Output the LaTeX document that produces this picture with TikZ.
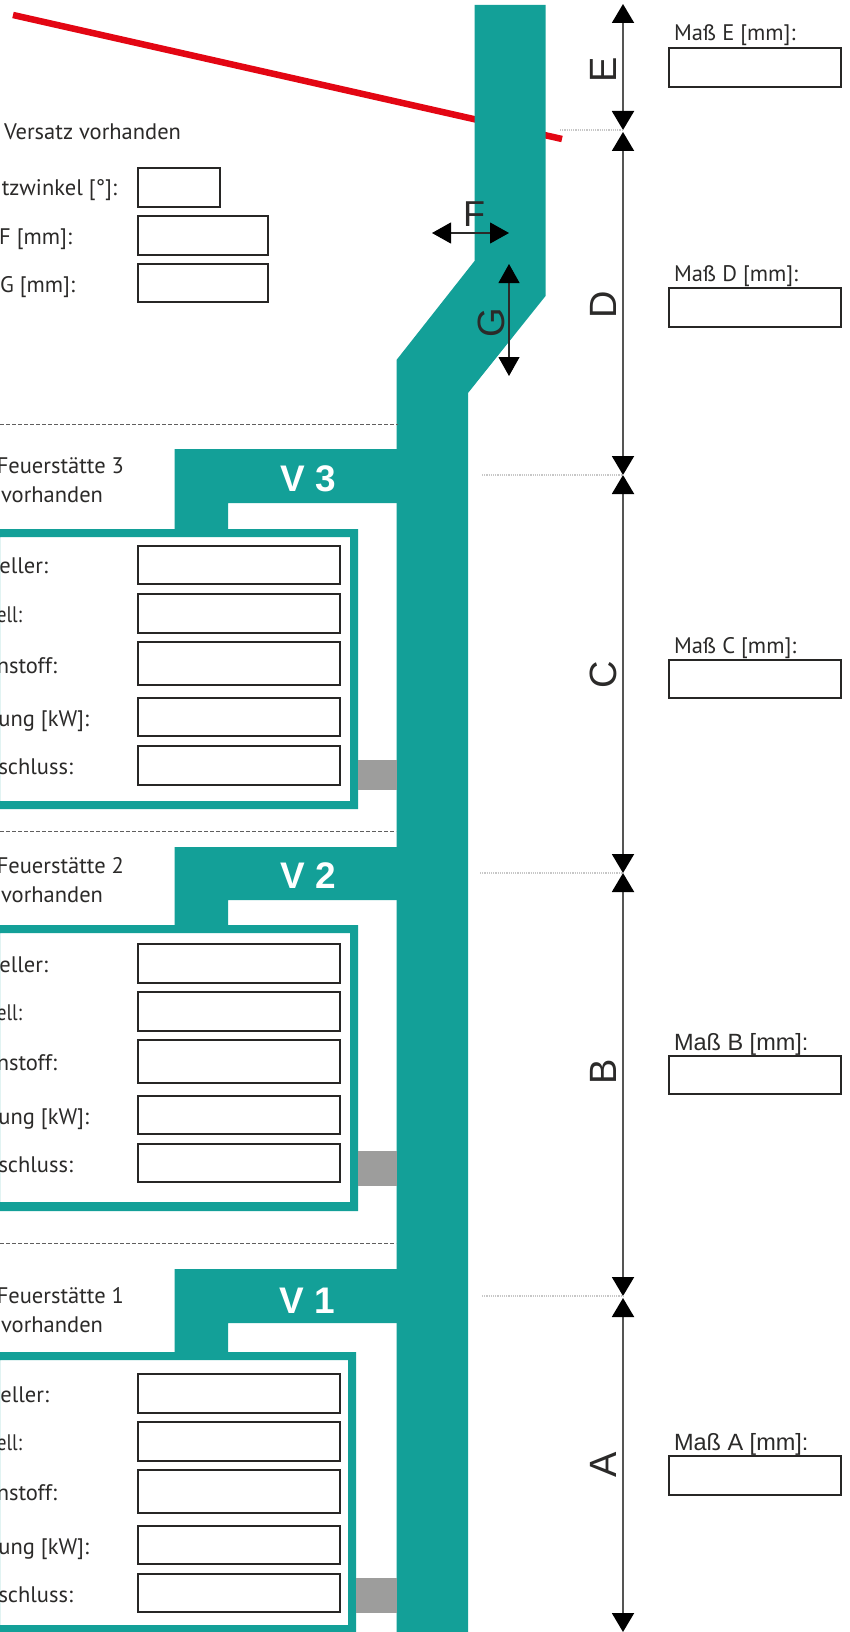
\documentclass[tikz,border=0pt]{standalone}
\usepackage{fontspec}
\setmainfont{PT Sans}
\newfontfamily\arialf{Liberation Sans}
\usetikzlibrary{arrows.meta}
\definecolor{teal1}{HTML}{13A098}
\definecolor{gray1}{HTML}{9D9D9C}
\definecolor{red1}{HTML}{E30613}
\definecolor{ink}{HTML}{2B2A29}
\tikzset{
  lbl/.style={inner sep=0pt,outer sep=0pt,text=ink,font=\fontsize{22.5}{27}\selectfont},
  lblr/.style={lbl,anchor=base east},
  lbll/.style={lbl,anchor=base west},
  arlbl/.style={inner sep=0pt,outer sep=0pt,anchor=base west,text=ink,font=\arialf\fontsize{23.5}{27}\selectfont},
  inbox/.style={draw=ink!90!black,line width=1.8pt,fill=white,inner sep=0pt,outer sep=0pt,anchor=north west,xshift=0.8pt,yshift=-0.8pt},
  pipe/.style={fill=teal1,draw=none},
  stub/.style={fill=gray1,draw=none},
  dimline/.style={draw=ink!80,line width=2pt,{Triangle[length=19pt,width=22pt,black]}-{Triangle[length=19pt,width=22pt,black]}},
  smallarrow/.style={draw=ink,line width=1.1pt,{Triangle[length=19pt,width=21pt,black]}-{Triangle[length=19pt,width=21pt,black]}},
  sep/.style={draw=ink!75,line width=0.9pt,dash pattern=on 4pt off 2pt},
  ext/.style={draw=black!22,line width=1.6pt,dash pattern=on 1.2pt off 1pt},
  dimletter/.style={inner sep=0pt,outer sep=0pt,text=ink,rotate=90,font=\arialf\fontsize{38}{40}\selectfont},
  vlabel/.style={inner sep=0pt,outer sep=0pt,anchor=base,text=white,font=\arialf\bfseries\fontsize{37}{40}\selectfont},
}
\newcommand{\inputbox}[5]{\node[inbox,minimum width=#4pt-1pt,minimum height=#5pt-1pt] (#1) at (#2,#3) {};}
\newcommand{\shortell}{\scalebox{0.85}[1]{ell:}}
\begin{document}
\begin{tikzpicture}[x=1pt,y=-1pt]
\useasboundingbox (0,0) rectangle (849,1632);
\fill[white] (0,0) rectangle (849,1632);

% roof line, behind the flue
\coordinate (r1) at (13,15);
\coordinate (r2) at (562,139);
\draw[red1,line width=6.5pt] (r1) -- (r2);

% flue
\fill[pipe] (474.5,5) -- (545.5,5) -- (545.5,296) -- (468,393) -- (468,1632) -- (396.5,1632) -- (396.5,360) -- (474.5,261) -- cycle;

% separators
\coordinate (s3a) at (0,424);   \coordinate (s3b) at (398,424);
\coordinate (s2a) at (0,831);   \coordinate (s2b) at (396,831);
\coordinate (s1a) at (0,1243);  \coordinate (s1b) at (396,1243);
\draw[sep] (s3a) -- (s3b);
\draw[sep] (s2a) -- (s2b);
\draw[sep] (s1a) -- (s1b);

% V3
\fill[pipe] (397,449) -- (174.5,449) -- (174.5,530) -- (228,530) -- (228,503) -- (397,503) -- cycle;
\fill[pipe,even odd rule] (0,529) rectangle (358,809) (0,537) rectangle (350,801);
\fill[stub] (358,760) rectangle (397,790);
\node[vlabel] (v3) at (308,491) {V 3};
% V2
\fill[pipe] (397,847) -- (174.5,847) -- (174.5,926) -- (228,926) -- (228,900) -- (397,900) -- cycle;
\fill[pipe,even odd rule] (0,925) rectangle (358,1211) (0,933) rectangle (350,1202);
\fill[stub] (358,1151) rectangle (397,1186);
\node[vlabel] (v2) at (308,888) {V 2};
% V1
\fill[pipe] (397,1269) -- (174.5,1269) -- (174.5,1353) -- (228,1353) -- (228,1323) -- (397,1323) -- cycle;
\fill[pipe,even odd rule] (0,1352) rectangle (356,1632) (0,1360) rectangle (348,1625);
\fill[stub] (356,1578) rectangle (397,1613);
\node[vlabel] (v1) at (307,1313) {V 1};

% left texts: Versatz
\node[lblr] (t0) at (181,140) {Versatz vorhanden};
\node[lblr] (t1) at (117,196) {tzwinkel [°]:};
\node[lblr] (t2) at (72,244) {F [mm]:};
\node[lblr] (t3) at (75,292) {G [mm]:};
\inputbox{bw}{137}{167}{83}{40}
\inputbox{bf}{137}{215}{131}{40}
\inputbox{bg}{137}{263}{131}{39}

% Feuerstaette 3
\node[lblr] (f3a) at (124,473) {Feuerstätte 3};
\node[lblr] (f3b) at (103,502) {vorhanden};
\node[lblr] (f3c) at (48,573) {eller:};
\node[lblr] (f3d) at (22,622) {\shortell};
\node[lblr] (f3e) at (57,673) {nstoff:};
\node[lblr] (f3f) at (89,726) {ung [kW]:};
\node[lblr] (f3g) at (73,774) {schluss:};
\inputbox{b3a}{137}{545}{203}{39}
\inputbox{b3b}{137}{593}{203}{40}
\inputbox{b3c}{137}{641}{203}{44}
\inputbox{b3d}{137}{697}{203}{39}
\inputbox{b3e}{137}{745}{203}{40}

% Feuerstaette 2
\node[lblr] (f2a) at (124,873) {Feuerstätte 2};
\node[lblr] (f2b) at (103,902) {vorhanden};
\node[lblr] (f2c) at (48,972) {eller:};
\node[lblr] (f2d) at (22,1020) {\shortell};
\node[lblr] (f2e) at (57,1070) {nstoff:};
\node[lblr] (f2f) at (89,1124) {ung [kW]:};
\node[lblr] (f2g) at (73,1172) {schluss:};
\inputbox{b2a}{137}{943}{203}{40}
\inputbox{b2b}{137}{991}{203}{40}
\inputbox{b2c}{137}{1039}{203}{44}
\inputbox{b2d}{137}{1095}{203}{39}
\inputbox{b2e}{137}{1143}{203}{39}

% Feuerstaette 1
\node[lblr] (f1a) at (124,1303) {Feuerstätte 1};
\node[lblr] (f1b) at (103,1332) {vorhanden};
\node[lblr] (f1c) at (49,1402) {eller:};
\node[lblr] (f1d) at (22,1450) {\shortell};
\node[lblr] (f1e) at (57,1500) {nstoff:};
\node[lblr] (f1f) at (89,1554) {ung [kW]:};
\node[lblr] (f1g) at (73,1602) {schluss:};
\inputbox{b1a}{137}{1373}{203}{40}
\inputbox{b1b}{137}{1421}{203}{40}
\inputbox{b1c}{137}{1469}{203}{44}
\inputbox{b1d}{137}{1525}{203}{39}
\inputbox{b1e}{137}{1573}{203}{39}

% dimension chain
\coordinate (dTop) at (623,4);
\coordinate (dE) at (623,130);
\coordinate (dEb) at (623,132);
\coordinate (dD) at (623,475);
\coordinate (dC) at (623,873);
\coordinate (dB) at (623,1296);
\coordinate (dBb) at (623,1298);
\coordinate (dBot) at (623,1632);
\draw[dimline] (dTop) -- (dE);
\draw[dimline] (dEb) -- (dD);
\draw[dimline] (dD) -- (dC);
\draw[dimline] (dC) -- (dB);
\draw[dimline] (dBb) -- (dBot);
\coordinate (xE) at (560,130);
\coordinate (xD) at (482,475);
\coordinate (xC) at (480,873);
\coordinate (xB) at (482,1296);
\draw[ext] (xE) -- (dE);
\draw[ext] (xD) -- (dD);
\draw[ext] (xC) -- (dC);
\draw[ext] (xB) -- (dB);
\node[dimletter] (lE) at (603,70) {E};
\node[dimletter] (lD) at (603,305) {D};
\node[dimletter] (lC) at (603,675) {C};
\node[dimletter] (lB) at (603,1072) {B};
\node[dimletter] (lA) at (603,1465) {A};

% F and G
\coordinate (fa) at (432,233);
\coordinate (fb) at (509,233);
\coordinate (ga) at (509,264);
\coordinate (gb) at (509,376);
\draw[smallarrow] (fa) -- (fb);
\draw[smallarrow] (ga) -- (gb);
\node[inner sep=0pt,text=ink,font=\arialf\fontsize{36}{40}\selectfont] (lF) at (474,214) {F};
\node[dimletter] (lG) at (491,323) {G};

% right column
\node[lbll] (mE) at (674,41) {Maß E [mm]:};
\node[lbll] (mD) at (674,281) {Maß D [mm]:};
\node[lbll] (mC) at (674,653) {Maß C [mm]:};
\node[arlbl] (mB) at (674,1050) {Maß B [mm]:};
\node[arlbl] (mA) at (674,1450) {Maß A [mm]:};
\inputbox{bE}{668}{47}{173}{40}
\inputbox{bD}{668}{287}{173}{40}
\inputbox{bC}{668}{659}{173}{39}
\inputbox{bB}{668}{1055}{173}{39}
\inputbox{bA}{668}{1455}{173}{40}
\end{tikzpicture}
\end{document}
